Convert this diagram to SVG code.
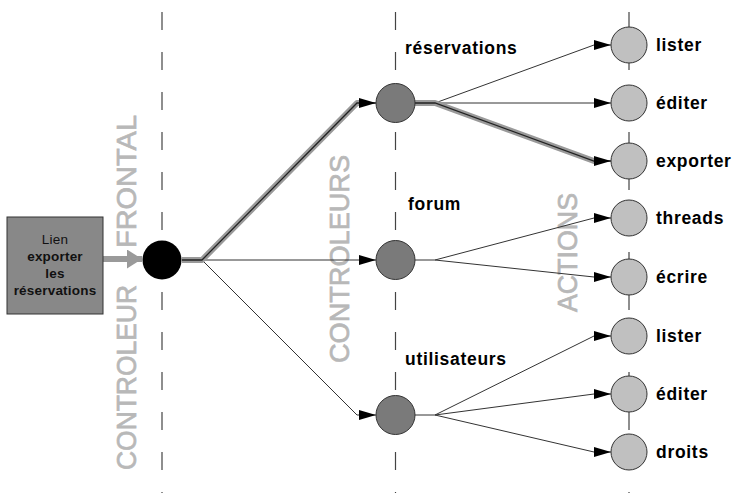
<svg xmlns="http://www.w3.org/2000/svg" width="733" height="493" viewBox="0 0 733 493">
<style>
.axis{stroke:#444;stroke-width:1.2;stroke-dasharray:18 22;fill:none}
.big{font-family:"Liberation Sans",Arial,sans-serif;fill:#b8b8b8;stroke:#b8b8b8;stroke-width:0.7;font-size:27px}
.lbl{font-family:"Liberation Sans",Arial,sans-serif;font-weight:bold;font-size:17.5px;letter-spacing:0.7px;fill:#000}
.box{font-family:"Liberation Sans",Arial,sans-serif;font-size:13.5px;letter-spacing:0.2px;fill:#111;text-anchor:middle}
.thin{fill:none;stroke:#333;stroke-width:1}
.band{fill:none;stroke:#9a9a9a;stroke-width:6;stroke-linejoin:round}
.core{fill:none;stroke:#222;stroke-width:1.3}
.ctrl{fill:#7a7a7a;stroke:#333;stroke-width:1}
.act{fill:#c0c0c0;stroke:#333;stroke-width:1}
</style>
<defs>
<marker id="ah" markerUnits="userSpaceOnUse" markerWidth="17" markerHeight="10" refX="17" refY="5" orient="auto">
<path d="M0,0 L17,5 L0,10 z" fill="#000"/>
</marker>
<marker id="gh" markerUnits="userSpaceOnUse" markerWidth="15" markerHeight="19" refX="15" refY="9.5" orient="auto">
<path d="M0,0 L15,9.5 L0,19 z" fill="#9a9a9a"/>
</marker>
</defs>
<g id="axes">
<line class="axis" x1="162" y1="12" x2="162" y2="493"/>
<line class="axis" x1="395.5" y1="12" x2="395.5" y2="493"/>
<line class="axis" x1="629" y1="12" x2="629" y2="493"/>
</g>
<g id="layer-titles">
<text class="big" transform="translate(136,470) rotate(-90)"><tspan x="0" textLength="185" lengthAdjust="spacingAndGlyphs">CONTROLEUR</tspan><tspan x="222" textLength="133" lengthAdjust="spacingAndGlyphs">FRONTAL</tspan></text>
<text class="big" font-size="28" transform="translate(349,363) rotate(-90)" textLength="208" lengthAdjust="spacingAndGlyphs">CONTROLEURS</text>
<text class="big" transform="translate(577,312) rotate(-90)" textLength="119" lengthAdjust="spacingAndGlyphs">ACTIONS</text>
</g>
<g id="connectors">
<path d="M103,259 L142,259" fill="none" stroke="#9a9a9a" stroke-width="6" marker-end="url(#gh)"/>
<path class="thin" d="M202,260 L376,260" marker-end="url(#ah)" stroke="#666"/>
<path class="thin" d="M202,260 L357,415 L376,415" marker-end="url(#ah)"/>
<path class="band" d="M182,260 L202,260 L357,103 L362,103"/>
<path class="core" d="M182,260 L202,260 L357,103 L376,103" marker-end="url(#ah)"/>
<path class="thin" d="M415,103 L435,103 L594,45 L611,45" marker-end="url(#ah)"/>
<path class="thin" d="M435,103 L611,103" marker-end="url(#ah)"/>
<path class="band" d="M415,103 L435,103 L594,161 L597,161"/>
<path class="core" d="M415,103 L435,103 L594,161 L611,161" marker-end="url(#ah)"/>
<path class="thin" d="M415,260 L435,260 L594,218 L611,218" marker-end="url(#ah)" stroke="#555"/>
<path class="thin" d="M435,260 L594,277 L611,277" marker-end="url(#ah)"/>
<path class="thin" d="M415,415 L435,415 L594,336 L611,336" marker-end="url(#ah)"/>
<path class="thin" d="M435,415 L594,394 L611,394" marker-end="url(#ah)"/>
<path class="thin" d="M435,415 L594,452 L611,452" marker-end="url(#ah)"/>
</g>
<g id="lien">
<rect x="7" y="217" width="96" height="97" fill="#888888" stroke="#333" stroke-width="1"/>
<text class="box" x="55" y="244">Lien</text>
<text class="box" x="55" y="261" font-weight="bold">exporter</text>
<text class="box" x="55" y="278" font-weight="bold">les</text>
<text class="box" x="55" y="295" font-weight="bold">réservations</text>
</g>
<g id="front"><circle cx="162" cy="260" r="19.5" fill="#000"/></g>
<g id="ctrl-reservations"><circle class="ctrl" cx="395.5" cy="103" r="19.5"/><text class="lbl" x="405" y="54">réservations</text></g>
<g id="ctrl-forum"><circle class="ctrl" cx="395.5" cy="260" r="19.5"/><text class="lbl" x="408" y="210">forum</text></g>
<g id="ctrl-utilisateurs"><circle class="ctrl" cx="395.5" cy="415" r="19.5"/><text class="lbl" x="405" y="365">utilisateurs</text></g>
<g id="act-res-lister"><circle class="act" cx="629" cy="45" r="18"/><text class="lbl" x="656" y="51">lister</text></g>
<g id="act-res-editer"><circle class="act" cx="629" cy="103" r="18"/><text class="lbl" x="656" y="109">éditer</text></g>
<g id="act-res-exporter"><circle class="act" cx="629" cy="161" r="18"/><text class="lbl" x="656" y="167">exporter</text></g>
<g id="act-forum-threads"><circle class="act" cx="629" cy="218" r="18"/><text class="lbl" x="656" y="224">threads</text></g>
<g id="act-forum-ecrire"><circle class="act" cx="629" cy="277" r="18"/><text class="lbl" x="656" y="283">écrire</text></g>
<g id="act-util-lister"><circle class="act" cx="629" cy="336" r="18"/><text class="lbl" x="656" y="342">lister</text></g>
<g id="act-util-editer"><circle class="act" cx="629" cy="394" r="18"/><text class="lbl" x="656" y="400">éditer</text></g>
<g id="act-util-droits"><circle class="act" cx="629" cy="452" r="18"/><text class="lbl" x="656" y="458">droits</text></g>
</svg>
